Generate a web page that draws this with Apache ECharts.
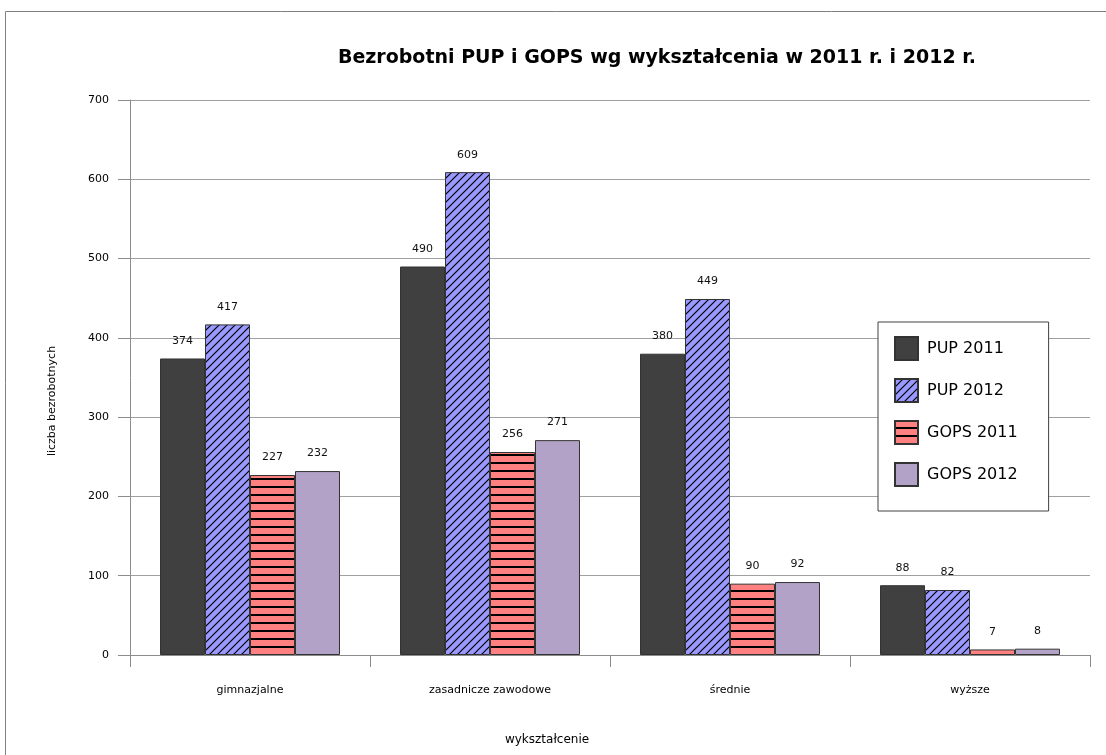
<!DOCTYPE html>
<html>
<head>
<meta charset="utf-8">
<script src="https://cdn.jsdelivr.net/npm/echarts@6/dist/echarts.min.js"></script>
<style>
  html, body { margin: 0; padding: 0; background: #fff; }
  #chart { width: 1106px; height: 755px; }
</style>
</head>
<body>
<div id="chart"></div>
<script>
// dane z wykresu
const categories = ['gimnazjalne', 'zasadnicze zawodowe', 'średnie', 'wyższe'];
const pup2011 = [374, 490, 380, 88];
const pup2012 = [417, 609, 449, 82];
const gops2011 = [227, 256, 90, 7];
const gops2012 = [232, 271, 92, 8];
const seriesNames = ['PUP 2011', 'PUP 2012', 'GOPS 2011', 'GOPS 2012'];

const wide = 'DejaVu Sans, Verdana, sans-serif';

// wzór ukośny (PUP 2012)
function diagPattern() {
  const c = document.createElement('canvas');
  c.width = 8; c.height = 8;
  const ctx = c.getContext('2d');
  ctx.fillStyle = '#9999ff';
  ctx.fillRect(0, 0, 8, 8);
  ctx.strokeStyle = '#000';
  ctx.lineWidth = 1.2;
  ctx.beginPath();
  ctx.moveTo(-2, 10); ctx.lineTo(10, -2);
  ctx.moveTo(-2, 2); ctx.lineTo(2, -2);
  ctx.moveTo(6, 10); ctx.lineTo(10, 6);
  ctx.stroke();
  return c;
}

// paski poziome (GOPS 2011)
function stripePattern() {
  const c = document.createElement('canvas');
  c.width = 8; c.height = 8;
  const ctx = c.getContext('2d');
  ctx.fillStyle = '#ff8080';
  ctx.fillRect(0, 0, 8, 8);
  ctx.fillStyle = '#000';
  ctx.fillRect(0, 6, 8, 2);
  return c;
}

const fills = [
  '#404040',
  { image: diagPattern(), repeat: 'repeat' },
  { image: stripePattern(), repeat: 'repeat' },
  '#b3a2c7'
];
const values = [pup2011, pup2012, gops2011, gops2012];

const chart = echarts.init(document.getElementById('chart'));

const option = {
  animation: false,
  textStyle: { fontFamily: 'Liberation Sans, Arial, sans-serif' },
  title: {
    text: 'Bezrobotni PUP i GOPS wg wykształcenia w 2011 r. i 2012 r.',
    left: 652,
    textAlign: 'center',
    top: 44,
    textStyle: { fontSize: 19, fontWeight: 'bold', color: '#000', fontFamily: wide }
  },
  graphic: [
    {
      type: 'rect',
      shape: { x: 5.5, y: 11.5, width: 1200, height: 800 },
      style: { fill: 'none', stroke: '#808080', lineWidth: 1 },
      z: -1
    },
    {
      type: 'text',
      x: 547,
      y: 740,
      style: {
        text: 'wykształcenie', fontSize: 12, fill: '#000', fontFamily: wide,
        textAlign: 'center', textVerticalAlign: 'middle'
      }
    },
    {
      type: 'text',
      x: 52,
      y: 401,
      rotation: Math.PI / 2,
      style: {
        text: 'liczba bezrobotnych', fontSize: 11, fill: '#000', fontFamily: wide,
        textAlign: 'center', textVerticalAlign: 'middle'
      }
    }
  ],
  legend: {
    orient: 'vertical',
    left: 878,
    top: 322,
    width: 170,
    padding: [14, 31, 24, 16],
    itemGap: 17,
    itemWidth: 23,
    itemHeight: 23,
    borderColor: '#404040',
    borderWidth: 1,
    backgroundColor: '#fff',
    icon: 'rect',
    textStyle: { fontSize: 16, color: '#000', fontFamily: wide, padding: [6, 0, 0, 4] },
    data: seriesNames
  },
  grid: {
    left: 130,
    right: 16,
    top: 100,
    bottom: 100,
    containLabel: false
  },
  xAxis: {
    type: 'category',
    data: categories,
    axisLine: { lineStyle: { color: '#8c8c8c' } },
    axisTick: { show: true, length: 12, lineStyle: { color: '#8c8c8c' } },
    axisLabel: { fontSize: 11, color: '#000', margin: 30, fontFamily: wide },
    splitLine: { show: false }
  },
  yAxis: {
    type: 'value',
    min: 0,
    max: 700,
    interval: 100,
    axisLine: { show: true, lineStyle: { color: '#8c8c8c' } },
    axisTick: { show: true, length: 12, lineStyle: { color: '#8c8c8c' } },
    axisLabel: { fontSize: 11, color: '#000', margin: 21, fontFamily: wide },
    splitLine: { lineStyle: { color: '#a0a0a0' } }
  },
  series: seriesNames.map((name, i) => ({
    name: name,
    type: 'bar',
    data: values[i],
    barGap: '0%',
    barCategoryGap: '25%',
    itemStyle: {
      color: fills[i],
      borderColor: '#333',
      borderWidth: 1
    },
    label: {
      show: true,
      position: 'top',
      distance: 12,
      fontSize: 11,
      color: '#111',
      fontFamily: wide
    }
  }))
};

chart.setOption(option);
</script>
</body>
</html>
